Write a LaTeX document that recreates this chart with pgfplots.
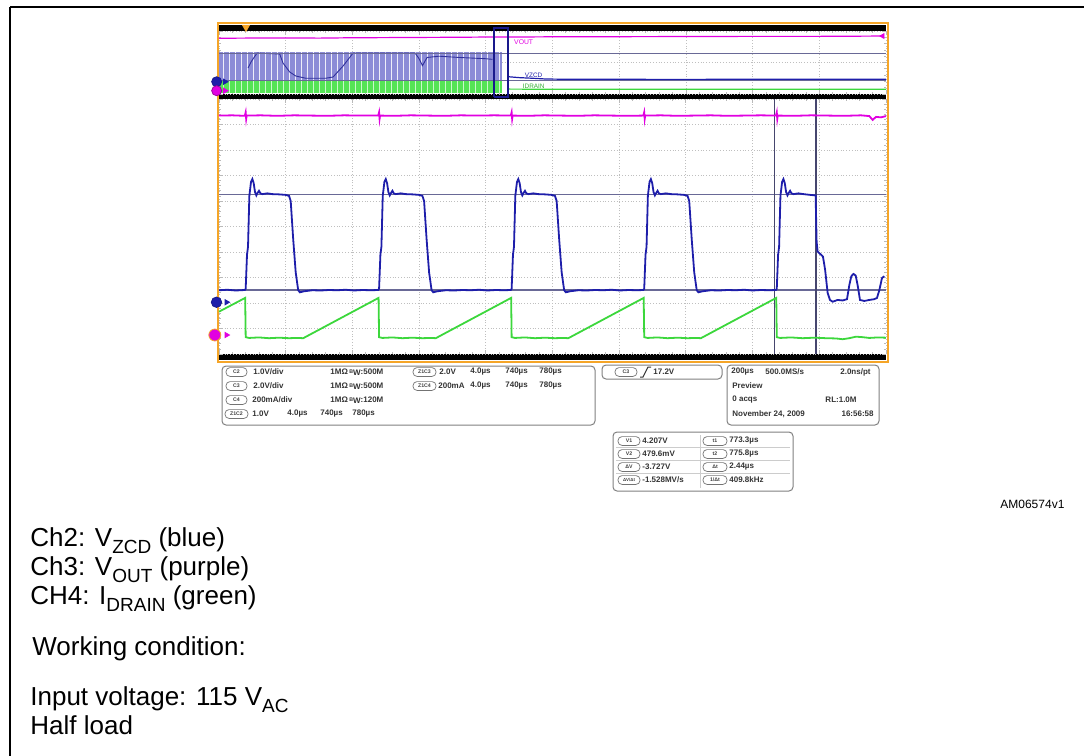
\documentclass[border=0pt]{standalone}
\usepackage{pgfplots}
\pgfplotsset{compat=1.18}
\usepackage{fontspec}
\setmainfont{Liberation Sans}
\usetikzlibrary{patterns}
\definecolor{trblue}{RGB}{30,30,170}
\definecolor{trmag}{RGB}{225,0,225}
\definecolor{trgreen}{RGB}{60,215,60}
\definecolor{curs}{RGB}{105,105,150}
\definecolor{vcurs}{RGB}{70,70,110}
\definecolor{tekorange}{RGB}{245,165,40}
\definecolor{ovblue}{RGB}{140,140,215}
\definecolor{ovgreen}{RGB}{85,228,85}
\definecolor{navy}{RGB}{25,25,140}
\newcommand\sub[1]{\raisebox{-0.28em}{\fontsize{9.5}{9.5}\selectfont #1}}
\newcommand\info{\fontsize{4}{4.5}\selectfont\bfseries}
\newcommand\pilltxt{\fontsize{2.6}{3}\selectfont\bfseries}
\newcommand\bw{\raisebox{0.3ex}{\fontsize{2.6}{3}\selectfont B}\raisebox{-0.15ex}{W}}
\newcommand\tx[3]{\node[anchor=west,inner sep=0pt,font=\info,text=black!80] at (#1,#2) {#3};}
\newcommand\pl[4]{\node[draw=black!55, line width=0.35pt, rounded corners=2pt, minimum width=#4, minimum height=4.4pt, inner sep=0pt, font=\pilltxt, text=black!75] at (#1,#2) {#3};}
\pgfplotsset{
  tekgrid/.style={
    scale only axis, clip=false,
    axis line style={draw=none},
    tick align=inside,
    xtick pos=both, ytick pos=both,
    xticklabels={}, yticklabels={},
    grid=major, major grid style={densely dotted, gray!50, line width=0.4pt},
    major tick length=2pt, minor tick length=1pt,
    tick style={gray!55, line width=0.4pt},
  },
}
\begin{document}
\begin{tikzpicture}
\useasboundingbox (0,0) rectangle (542pt,-378pt);
\begin{scope}[x=0.5pt,y=-0.5pt]
  % figure frame
  \draw[line width=1.2pt] (10,7) -- (1090,7);
  \draw[line width=1pt] (10,7) -- (10,760);
  % scope screen frame and black bands
  \fill[black] (219,25) rectangle (886,31);
  \fill[black] (219,94) rectangle (886,99);
  \fill[black] (219,354) rectangle (886,360);
  \draw[tekorange, line width=1pt] (217.5,23) rectangle (887.5,361.5);
\end{scope}

% ---------------- overview (top) ----------------
\begin{axis}[tekgrid, at={(109.5pt,-47pt)}, anchor=south west,
  width=333.5pt, height=31.5pt,
  xmin=0, xmax=10, ymin=0, ymax=10,
  xtick={0,...,10}, ytick={0,5,10}, minor x tick num=4, minor y tick num=4]
  % blue switching band
  \addplot[draw=none, fill=ovblue, postaction={pattern=vertical lines, pattern color=white!85!ovblue}]
    coordinates {(0,2.25) (0,6.65) (4.25,6.65) (4.25,2.25)} -- cycle;
  % green switching band
  \addplot[draw=none, fill=ovgreen, postaction={pattern=vertical lines, pattern color=white!70!ovgreen}]
    coordinates {(0,0.2) (0,2.05) (4.25,2.05) (4.25,0.2)} -- cycle;
  % envelope of the blue band
  \addplot[navy!80!ovblue, line width=0.45pt] coordinates {
    (0.435,4.13) (0.48,5.08) (0.57,6.5) (0.91,6.35) (0.96,4.9) (1.06,3.5) (1.15,2.86)
    (1.3,2.5) (1.6,2.5) (1.71,2.7) (1.86,4.44) (2.01,6.5) (2.94,6.5) (3.0,5.6)
    (3.05,4.5) (3.12,5.8) (3.3,6.0) (3.6,5.8) (4.0,5.6) (4.1,5.5)};
  % cursors
  \addplot[curs, line width=0.5pt] coordinates {(0,6.46) (10,6.46)};
  \addplot[curs, line width=0.5pt] coordinates {(0,2.22) (10,2.22)};
  % traces after the burst
  \addplot[trblue, line width=0.6pt] coordinates {(4.33,2.75) (4.5,2.6) (4.7,2.5) (4.9,2.38) (5.2,2.34) (6,2.33) (7,2.32) (8,2.34) (9,2.33) (10,2.33)};
  \addplot[trgreen, line width=0.6pt] coordinates {(4.33,0.78) (5,0.75) (6,0.76) (7,0.75) (8,0.75) (9,0.76) (10,0.75)};
  \addplot[trmag, line width=0.6pt] coordinates {(0,8.85) (0.5,8.88) (1,8.9) (1.5,8.87) (2,8.93) (2.5,8.95) (3,8.98) (3.5,9.0) (4.1,9.05) (4.5,9.05) (5,9.08) (6,9.1) (7,9.12) (8,9.15) (9,9.15) (9.95,9.2)};
  \addplot[only marks, mark=triangle*, mark size=1.4pt, mark options={rotate=90, fill=trmag, draw=trmag}] coordinates {(9.95,9.2)};
  % zoom box
  \addplot[navy, line width=0.8pt] coordinates {(4.12,-0.45) (4.12,10.45) (4.33,10.45) (4.33,-0.45) (4.12,-0.45)};
  % labels
  \node[anchor=west, inner sep=0pt, text=trmag, font=\fontsize{3.4}{3.4}\selectfont] at (axis cs:4.42,8.3) {VOUT};
  \node[anchor=west, inner sep=0pt, text=trblue, font=\fontsize{3.2}{3.2}\selectfont] at (axis cs:4.58,2.95) {VZCD};
  \node[anchor=west, inner sep=0pt, text=trgreen!80!black, font=\fontsize{3.2}{3.2}\selectfont] at (axis cs:4.55,1.15) {IDRAIN};
  % trigger position and channel markers
  \addplot[only marks, mark=triangle*, mark size=2pt, mark options={rotate=180, fill=tekorange, draw=tekorange}] coordinates {(0.405,10.6)};
  \addplot[only marks, mark=*, mark size=2.5pt, mark options={fill=trblue, draw=navy}] coordinates {(-0.035,1.95)};
  \addplot[only marks, mark=triangle*, mark size=1.5pt, mark options={rotate=-90, fill=trblue, draw=trblue}] coordinates {(0.09,1.95)};
  \addplot[only marks, mark=*, mark size=2.5pt, mark options={fill=trmag, draw=trmag!70!black}] coordinates {(-0.035,0.52)};
  \addplot[only marks, mark=triangle*, mark size=1.5pt, mark options={rotate=-90, fill=trmag, draw=trmag}] coordinates {(0.09,0.52)};
\end{axis}

% ---------------- zoomed main window ----------------
\begin{axis}[tekgrid, at={(109.5pt,-177pt)}, anchor=south west,
  width=333.5pt, height=127.5pt,
  xmin=740, xmax=780, ymin=0, ymax=10,
  xtick={740,744,...,780}, ytick={0,...,10}, minor x tick num=4, minor y tick num=4]
  % cursors
  \addplot[curs, line width=0.6pt] coordinates {(740,6.24) (780,6.24)};
  \addplot[curs, line width=0.6pt] coordinates {(740,2.51) (780,2.51)};
  \addplot[vcurs, line width=0.6pt] coordinates {(773.3,0) (773.3,10)};
  \addplot[vcurs, line width=0.6pt] coordinates {(775.8,0) (775.8,10)};
  % Ch3 VOUT (magenta)
  \addplot[trmag, line width=0.9pt] coordinates {
    (740,9.35) (740.8,9.36) (741.55,9.34) (741.6,9.48) (741.63,9.22) (741.66,9.35)
    (742.5,9.36) (743.5,9.34) (744.5,9.36) (745.5,9.35) (746.5,9.34) (747.5,9.36) (748.5,9.35)
    (749.55,9.35) (749.6,9.48) (749.63,9.22) (749.66,9.35)
    (750.5,9.34) (751.5,9.36) (752.5,9.35) (753.5,9.34) (754.5,9.36) (755.5,9.35) (756.5,9.36)
    (757.5,9.35) (757.55,9.48) (757.58,9.22) (757.61,9.35)
    (758.5,9.34) (759.5,9.36) (760.5,9.35) (761.5,9.34) (762.5,9.36) (763.5,9.35) (764.5,9.34)
    (765.45,9.35) (765.5,9.48) (765.53,9.22) (765.56,9.35)
    (766.5,9.36) (767.5,9.34) (768.5,9.35) (769.5,9.36) (770.5,9.34) (771.5,9.35) (772.5,9.36)
    (773.4,9.35) (773.45,9.48) (773.48,9.22) (773.51,9.35)
    (774.5,9.34) (775.5,9.36) (776.5,9.35) (777.5,9.34) (778.5,9.36) (779.0,9.33)
    (779.2,9.18) (779.4,9.3) (779.7,9.28) (780,9.33)};
  % Ch4 IDRAIN (green)
  \addplot[trgreen, line width=0.9pt] coordinates {
    (740,1.66) (741.57,2.2) (741.6,0.66) (741.8,0.63) (742.4,0.65) (743.0,0.62) (743.6,0.64) (744.2,0.62) (744.7,0.63) (745.05,0.62)
    (749.57,2.2) (749.6,0.66) (749.8,0.63) (750.4,0.65) (751.0,0.62) (751.6,0.64) (752.2,0.62) (752.7,0.63) (753.0,0.62)
    (757.52,2.2) (757.55,0.66) (757.75,0.63) (758.35,0.65) (758.95,0.62) (759.55,0.64) (760.15,0.62) (760.65,0.63) (760.95,0.62)
    (765.47,2.2) (765.5,0.66) (765.7,0.63) (766.3,0.65) (766.9,0.62) (767.5,0.64) (768.1,0.62) (768.6,0.63) (768.9,0.62)
    (773.42,2.2) (773.45,0.66) (773.65,0.63) (774.3,0.65) (775.0,0.62) (775.7,0.64) (776.4,0.62) (777.0,0.61)
    (777.4,0.58) (777.8,0.62) (778.2,0.68) (778.6,0.66) (779.0,0.63) (779.5,0.65) (780,0.64)};
  % Ch2 VZCD (blue)
  \addplot[trblue, line width=0.9pt] coordinates {
    (740.0,2.50) (740.5,2.52) (741.0,2.49) (741.55,2.51)
    (741.6,2.56) (741.68,3.9) (741.74,4.2) (741.82,6.2) (741.92,6.75) (742.0,6.86) (742.08,6.7) (742.16,6.35) (742.24,6.22) (742.32,6.32) (742.4,6.40) (742.48,6.30) (742.6,6.27) (742.9,6.30) (743.2,6.27) (743.6,6.26) (744.0,6.24) (744.2,6.2) (744.3,6.0) (744.45,4.5) (744.6,3.2) (744.75,2.5) (744.85,2.42) (745.1,2.46) (745.6,2.50) (746.1,2.49) (746.6,2.51) (747.1,2.50) (747.6,2.52) (748.1,2.49) (748.6,2.51) (749.1,2.50) (749.55,2.51)
    (749.6,2.56) (749.68,3.9) (749.74,4.2) (749.82,6.2) (749.92,6.75) (750.0,6.86) (750.08,6.7) (750.16,6.35) (750.24,6.22) (750.32,6.32) (750.4,6.40) (750.48,6.30) (750.6,6.27) (750.9,6.30) (751.2,6.27) (751.6,6.26) (752.0,6.24) (752.2,6.2) (752.3,6.0) (752.45,4.5) (752.6,3.2) (752.75,2.5) (752.85,2.42) (753.1,2.46) (753.6,2.50) (754.1,2.49) (754.6,2.51) (755.1,2.50) (755.6,2.52) (756.1,2.49) (756.6,2.51) (757.1,2.50) (757.5,2.51)
    (757.55,2.56) (757.63,3.9) (757.69,4.2) (757.77,6.2) (757.87,6.75) (757.95,6.86) (758.03,6.7) (758.11,6.35) (758.19,6.22) (758.27,6.32) (758.35,6.40) (758.43,6.30) (758.55,6.27) (758.85,6.30) (759.15,6.27) (759.55,6.26) (759.95,6.24) (760.15,6.2) (760.25,6.0) (760.4,4.5) (760.55,3.2) (760.7,2.5) (760.8,2.42) (761.05,2.46) (761.55,2.50) (762.05,2.49) (762.55,2.51) (763.05,2.50) (763.55,2.52) (764.05,2.49) (764.55,2.51) (765.05,2.50) (765.45,2.51)
    (765.5,2.56) (765.58,3.9) (765.64,4.2) (765.72,6.2) (765.82,6.75) (765.9,6.86) (765.98,6.7) (766.06,6.35) (766.14,6.22) (766.22,6.32) (766.3,6.40) (766.38,6.30) (766.5,6.27) (766.8,6.30) (767.1,6.27) (767.5,6.26) (767.9,6.24) (768.1,6.2) (768.2,6.0) (768.35,4.5) (768.5,3.2) (768.65,2.5) (768.75,2.42) (769.0,2.46) (769.5,2.50) (770.0,2.49) (770.5,2.51) (771.0,2.50) (771.5,2.52) (772.0,2.49) (772.5,2.51) (773.0,2.50) (773.4,2.51)
    (773.45,2.56) (773.53,3.9) (773.59,4.2) (773.67,6.2) (773.77,6.75) (773.85,6.86) (773.93,6.7) (774.01,6.35) (774.09,6.22) (774.17,6.32) (774.25,6.40) (774.33,6.30) (774.45,6.27) (774.75,6.30) (775.05,6.27) (775.45,6.24) (775.78,6.22)
    (775.84,4.4) (775.9,4.02) (776.22,3.82) (776.35,3.3) (776.5,2.4) (776.64,2.12) (776.8,2.05) (777.1,2.12) (777.4,2.1) (777.66,2.15) (777.8,2.7) (777.92,3.05) (778.05,3.14) (778.18,3.08) (778.3,2.7) (778.44,2.12) (778.7,2.08) (779.0,2.12) (779.3,2.15) (779.46,2.2) (779.6,2.5) (779.76,2.98) (779.9,3.05)};
  % channel ground markers
  \addplot[only marks, mark=*, mark size=2.6pt, mark options={fill=trblue, draw=navy}] coordinates {(739.85,2.03)};
  \addplot[only marks, mark=triangle*, mark size=1.5pt, mark options={rotate=-90, fill=trblue, draw=trblue}] coordinates {(740.45,2.03)};
  \addplot[only marks, mark=*, mark size=3pt, mark options={fill=trmag, draw=tekorange}] coordinates {(739.75,0.745)};
  \addplot[only marks, mark=triangle*, mark size=1.5pt, mark options={rotate=-90, fill=trmag, draw=trmag}] coordinates {(740.45,0.745)};
\end{axis}

\begin{scope}[x=0.5pt,y=-0.5pt]
  % ---------- info panels ----------
  \draw[black!50, line width=0.5pt, rounded corners=2pt] (222,366) rectangle (595,425);
  \draw[black!50, line width=0.5pt, rounded corners=2pt] (602,365) rectangle (722,379);
  \draw[black!50, line width=0.5pt, rounded corners=2pt] (727,365) rectangle (879,425);
  \draw[black!50, line width=0.5pt, rounded corners=2pt] (613,432) rectangle (793,491);
  % box 1
  \pl{236.5}{372}{C2}{10.5pt} \tx{253}{372}{1.0V/div} \tx{330}{372}{1MΩ} \tx{349}{372}{\bw:500M}
  \pl{424.5}{372}{Z1C3}{11.5pt} \tx{439}{372}{2.0V} \tx{470}{372}{4.0µs} \tx{505}{372}{740µs} \tx{539}{372}{780µs}
  \pl{236.5}{386}{C3}{10.5pt} \tx{253}{386}{2.0V/div} \tx{330}{386}{1MΩ} \tx{349}{386}{\bw:500M}
  \pl{424.5}{386}{Z1C4}{11.5pt} \tx{438}{386}{200mA} \tx{470}{386}{4.0µs} \tx{505}{386}{740µs} \tx{539}{386}{780µs}
  \pl{236.5}{400}{C4}{10.5pt} \tx{252}{400}{200mA/div} \tx{330}{400}{1MΩ} \tx{349}{400}{\bw:120M}
  \pl{236.5}{414}{Z1C2}{11.5pt} \tx{252}{414}{1.0V} \tx{287}{414}{4.0µs} \tx{320}{414}{740µs} \tx{352}{414}{780µs}
  % box 2
  \pl{626}{372}{C3}{11pt}
  \draw[black!80, line width=0.5pt] (640,377) -- (643,377) -- (648,367) -- (651,367);
  \tx{653}{372}{17.2V}
  % box 3
  \tx{731}{372}{200µs} \tx{765}{372}{500.0MS/s}
  \node[anchor=east,inner sep=0pt,font=\info,text=black!80] at (871,372) {2.0ns/pt};
  \tx{732}{386}{Preview}
  \tx{732}{400}{0 acqs}
  \node[anchor=east,inner sep=0pt,font=\info,text=black!80] at (857,400) {RL:1.0M};
  \tx{732}{414}{November 24, 2009}
  \node[anchor=east,inner sep=0pt,font=\info,text=black!80] at (874,414) {16:56:58};
  % box 4 (cursor readout)
  \draw[black!20, line width=0.4pt] (616,447.5) -- (790,447.5);
  \draw[black!20, line width=0.4pt] (616,460.5) -- (790,460.5);
  \draw[black!20, line width=0.4pt] (616,473.5) -- (790,473.5);
  \draw[black!20, line width=0.4pt] (700,435) -- (700,488);
  \pl{629}{441}{V1}{11pt} \tx{642}{441}{4.207V}
  \pl{629}{454}{V2}{11pt} \tx{642}{454}{479.6mV}
  \pl{629}{467}{ΔV}{11pt} \tx{642}{467}{-3.727V}
  \pl{629}{480}{\fontsize{2.2}{2.5}\selectfont ΔV/Δt}{11pt} \tx{642}{480}{-1.528MV/s}
  \pl{715}{441}{t1}{12pt} \tx{729}{441}{773.3µs}
  \pl{715}{454}{t2}{12pt} \tx{729}{454}{775.8µs}
  \pl{715}{467}{Δt}{12pt} \tx{729}{467}{2.44µs}
  \pl{715}{480}{1/Δt}{12pt} \tx{729}{480}{409.8kHz}
  % ---------- reference code ----------
  \node[anchor=base west, inner sep=0pt, font=\fontsize{6}{7}\selectfont] at (1000,508) {AM06574v1};
  % ---------- caption text ----------
  \node[anchor=base west, inner sep=0pt, font=\fontsize{13}{15}\selectfont] at (30,546) {Ch2: V\sub{ZCD} (blue)};
  \node[anchor=base west, inner sep=0pt, font=\fontsize{13}{15}\selectfont] at (30,575) {Ch3: V\sub{OUT} (purple)};
  \node[anchor=base west, inner sep=0pt, font=\fontsize{13}{15}\selectfont] at (30,604) {CH4: I\sub{DRAIN} (green)};
  \node[anchor=base west, inner sep=0pt, font=\fontsize{13}{15}\selectfont] at (32,655) {Working condition:};
  \node[anchor=base west, inner sep=0pt, font=\fontsize{13}{15}\selectfont] at (30,705) {Input voltage: 115 V\sub{AC}};
  \node[anchor=base west, inner sep=0pt, font=\fontsize{13}{15}\selectfont] at (30,734) {Half load};
\end{scope}
\end{tikzpicture}
\end{document}
